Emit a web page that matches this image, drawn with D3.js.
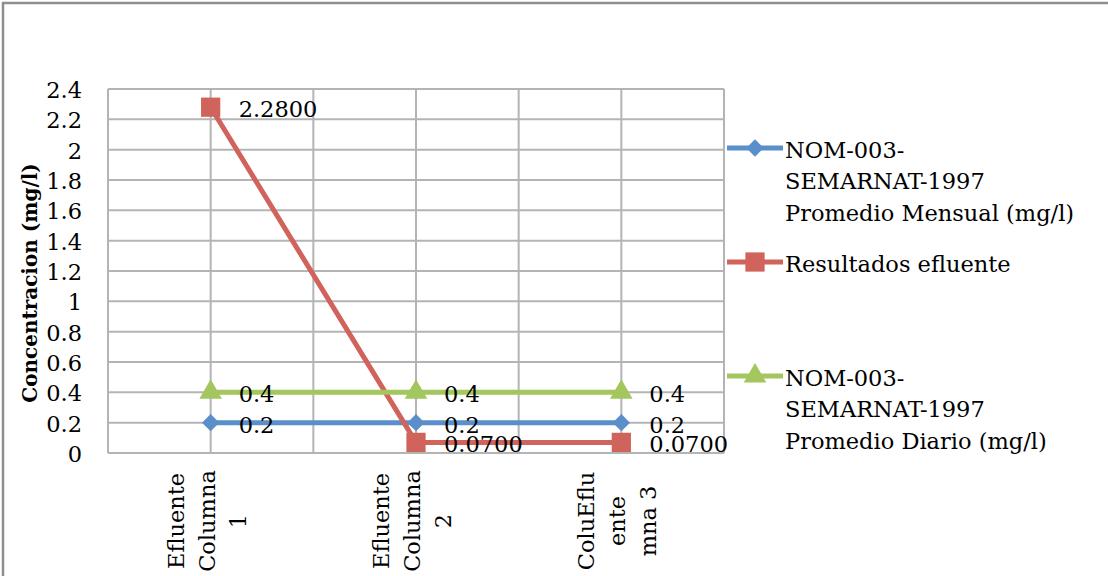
<!DOCTYPE html>
<html>
<head>
<meta charset="utf-8">
<script src="https://cdn.jsdelivr.net/npm/d3@7"></script>
<style>
  html, body { margin: 0; padding: 0; background: #fff; }
  svg text { font-family: "DejaVu Serif", serif; fill: #000; }
</style>
</head>
<body>
<div id="chart"></div>
<script>
// data
const categories = [["Efluente", "Columna", "1"], ["Efluente", "Columna", "2"], ["ColuEflu", "ente", "mna 3"]]
const mensual = [0.2, 0.2, 0.2]
const resultados = [2.28, 0.07, 0.07]
const diario = [0.4, 0.4, 0.4]
const yTicks = [0, 0.2, 0.4, 0.6, 0.8, 1, 1.2, 1.4, 1.6, 1.8, 2, 2.2, 2.4]
const legendNames = [
    ["NOM-003-", "SEMARNAT-1997", "Promedio Mensual (mg/l)"],
    ["Resultados efluente"],
    ["NOM-003-", "SEMARNAT-1997", "Promedio Diario (mg/l)"]
]

const series = [
    {values: mensual, color: "#5b8fca", symbol: d3.symbolSquare, size: 150, rot: 45, fmt: d => String(d), legendY: 148, name: legendNames[0]},
    {values: resultados, color: "#d0635b", symbol: d3.symbolSquare, size: 370, rot: 0, fmt: d3.format(".4f"), legendY: 262, name: legendNames[1]},
    {values: diario, color: "#a3c65e", symbol: d3.symbolTriangle, size: 220, rot: 0, fmt: d => String(d), legendY: 376, name: legendNames[2]}
]

const width = 1108
const height = 576
const plot = {left: 108, right: 724, top: 89, bottom: 453}
const fontSize = 22.5

const svg = d3.select("#chart").append("svg")
    .attr("width", width)
    .attr("height", height)

// outer frame
svg.append("path")
    .attr("d", `M3,${height} V3 H${width}`)
    .attr("fill", "none")
    .attr("stroke", "#8e8e8e")
    .attr("stroke-width", 2.5)

const xScale = d3.scaleBand()
    .domain(d3.range(categories.length))
    .range([plot.left, plot.right])
    .padding(0)

const xMid = i => xScale(i) + xScale.bandwidth() / 2

const yScale = d3.scaleLinear()
    .domain([0, 2.4])
    .range([plot.bottom, plot.top])

// gridlines
const grid = svg.append("g").attr("stroke", "#b4b4b4").attr("stroke-width", 2)

grid.selectAll(".hgrid").data(yTicks).join("line")
    .attr("x1", plot.left).attr("x2", plot.right)
    .attr("y1", d => yScale(d)).attr("y2", d => yScale(d))

const vLines = []
categories.forEach((c, i) => { vLines.push(xScale(i), xMid(i)) })
vLines.push(plot.right)
grid.selectAll(".vgrid").data(vLines).join("line")
    .attr("x1", d => d).attr("x2", d => d)
    .attr("y1", plot.top).attr("y2", plot.bottom)

// y axis labels
const yAx = d3.axisLeft(yScale)
    .tickValues(yTicks)
    .tickSize(0)
    .tickPadding(26)
    .tickFormat(d => String(+d.toFixed(1)))

svg.append("g")
    .attr("transform", `translate(${plot.left},0)`)
    .call(yAx)
    .call(g => g.select(".domain").remove())
    .call(g => g.selectAll("text")
        .attr("font-family", "DejaVu Serif")
        .attr("font-size", fontSize)
        .attr("dy", "0.38em")
        .attr("fill", "#000"))

svg.append("text")
    .attr("transform", "translate(37,283) rotate(-90)")
    .attr("text-anchor", "middle")
    .attr("font-size", 20)
    .attr("font-weight", "bold")
    .text("Concentracion (mg/l)")

// category labels (rotated, wrapped)
const catG = svg.append("g")
categories.forEach((lines, i) => {
    const cx = xMid(i) - 4
    lines.forEach((ln, j) => {
        const lx = cx + (j - (lines.length - 1) / 2) * 31
        catG.append("text")
            .attr("transform", `translate(${lx},521) rotate(-90)`)
            .attr("text-anchor", "middle")
            .attr("dy", "0.35em")
            .attr("font-size", fontSize)
            .text(ln)
    })
})

// lines + markers
const line = d3.line()
    .x((d, i) => xMid(i))
    .y(d => yScale(d))

series.forEach(s => {
    svg.append("path")
        .datum(s.values)
        .attr("fill", "none")
        .attr("stroke", s.color)
        .attr("stroke-width", 5)
        .attr("stroke-linejoin", "round")
        .attr("d", line)

    svg.selectAll(null).data(s.values).join("path")
        .attr("transform", (d, i) => `translate(${xMid(i)},${yScale(d)}) rotate(${s.rot})`)
        .attr("fill", s.color)
        .attr("d", d3.symbol(s.symbol, s.size))
})

// data labels
series.forEach(s => {
    svg.selectAll(null).data(s.values).join("text")
        .attr("x", (d, i) => xMid(i) + 28)
        .attr("y", d => yScale(d) + 2)
        .attr("dy", "0.35em")
        .attr("font-size", fontSize)
        .text(d => s.fmt(d))
})

// legend
const legend = svg.append("g")
series.forEach(s => {
    legend.append("line")
        .attr("x1", 727).attr("x2", 783)
        .attr("y1", s.legendY).attr("y2", s.legendY)
        .attr("stroke", s.color)
        .attr("stroke-width", 5)
    legend.append("path")
        .attr("transform", `translate(755,${s.legendY}) rotate(${s.rot})`)
        .attr("fill", s.color)
        .attr("d", d3.symbol(s.symbol, s.size))
    s.name.forEach((ln, j) => {
        legend.append("text")
            .attr("x", 785)
            .attr("y", s.legendY + 2 + j * 31.5)
            .attr("dy", "0.35em")
            .attr("font-size", fontSize)
            .text(ln)
    })
})
</script>
</body>
</html>
